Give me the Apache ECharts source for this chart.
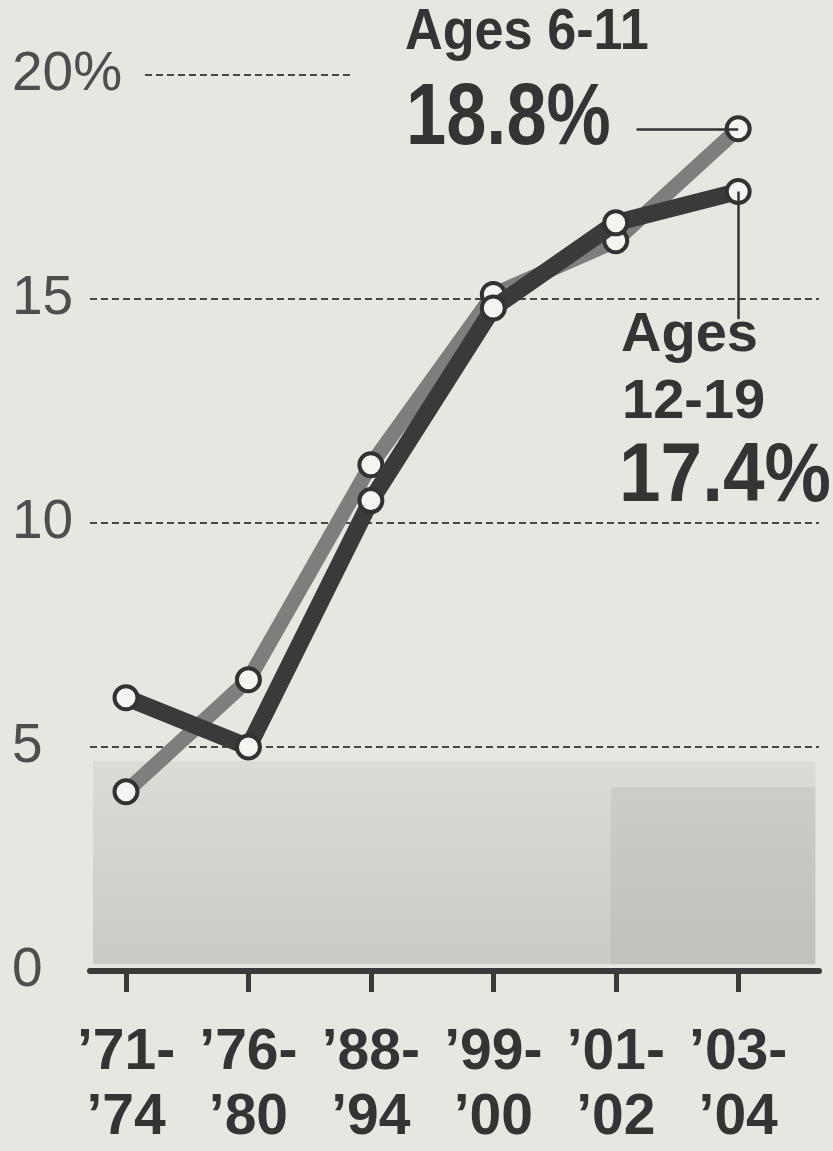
<!DOCTYPE html>
<html>
<head>
<meta charset="utf-8">
<script src="https://cdn.jsdelivr.net/npm/echarts@6/dist/echarts.min.js"></script>
<style>
html,body{margin:0;padding:0;background:#e7e7e2;}
#chart{width:833px;height:1151px;}
</style>
</head>
<body>
<div id="chart"></div>
<script>
const categories = ["’71-\n’74", "’76-\n’80", "’88-\n’94", "’99-\n’00", "’01-\n’02", "’03-\n’04"];
const ages6to11 = [4.0, 6.5, 11.3, 15.1, 16.3, 18.8];
const ages12to19 = [6.1, 5.0, 10.5, 14.8, 16.7, 17.4];
const yTicks = [0, 5, 10, 15, 20];

const idx = categories.map((c, i) => i);
const last = categories.length - 1;
const FONT = "'Liberation Sans', Arial, Helvetica, sans-serif";
const DARK = '#343434';
const GRID_STYLE = { color: '#474747', type: [7, 4], width: 2 };

const chart = echarts.init(document.getElementById('chart'));
const markerStyle = { color: '#f4f4f0', borderColor: '#323232', borderWidth: 4 };

chart.setOption({
  backgroundColor: '#e7e7e2',
  animation: false,
  grid: { left: 90, right: 14, top: 75, bottom: 176, containLabel: false },
  xAxis: {
    type: 'value',
    min: -0.294,
    max: 5.66,
    axisLine: { show: true, onZero: true, lineStyle: { color: '#3a3a3a', width: 6 } },
    axisTick: { show: true, customValues: idx, length: 21, lineStyle: { color: '#3a3a3a', width: 5 } },
    axisLabel: {
      customValues: idx,
      formatter: v => categories[Math.round(v)],
      margin: 50,
      color: DARK, fontFamily: FONT, fontWeight: 'bold', fontSize: 57, lineHeight: 65,
      verticalAlign: 'top', align: 'center'
    },
    splitLine: { show: false }
  },
  yAxis: {
    type: 'value',
    min: yTicks[0], max: yTicks[yTicks.length - 1], interval: 5,
    axisLine: { show: false }, axisTick: { show: false },
    axisLabel: {
      formatter: v => v === 20 ? v + '%' : String(v),
      align: 'left', margin: 78,
      color: '#4e4e4e', fontFamily: FONT, fontSize: 55
    },
    splitLine: { show: true, lineStyle: Object.assign({}, GRID_STYLE, { color: ['transparent', GRID_STYLE.color, GRID_STYLE.color, GRID_STYLE.color, 'transparent'] }) }
  },
  series: [
    {
      type: 'line', data: [], z: 1, silent: true,
      markArea: {
        silent: true,
        data: [
          [{ coord: [-0.27, 0.15], itemStyle: { color: { type: 'linear', x: 0, y: 0, x2: 0, y2: 1, colorStops: [{ offset: 0, color: '#dcdcd7' }, { offset: 1, color: '#cacbc6' }] } } }, { coord: [5.63, 4.68] }],
          [{ coord: [3.96, 0.15], itemStyle: { color: 'rgba(150,152,146,0.18)' } }, { coord: [5.63, 4.1] }]
        ]
      },
      markLine: {
        silent: true, symbol: 'none', label: { show: false },
        lineStyle: { color: '#333', width: 2.5, type: 'solid' },
        data: [
          [{ coord: [0.155, yTicks[4]], lineStyle: GRID_STYLE }, { coord: [1.83, yTicks[4]] }],
          [{ coord: [4.17, ages6to11[last]] }, { coord: [last, ages6to11[last]] }],
          [{ coord: [last, ages12to19[last]] }, { coord: [last, 14.55] }]
        ]
      }
    },
    {
      name: 'Ages 6-11', type: 'line', z: 2,
      data: idx.map(i => [i, ages6to11[i]]),
      lineStyle: { color: '#7e7e7c', width: 15 },
      symbol: 'circle', symbolSize: 23, itemStyle: markerStyle
    },
    {
      name: 'Ages 12-19', type: 'line', z: 3,
      data: idx.map(i => [i, ages12to19[i]]),
      lineStyle: { color: '#3a3a3a', width: 17 },
      symbol: 'circle', symbolSize: 23, itemStyle: markerStyle
    }
  ],
  graphic: [
    { type: 'text', x: 405, y: 33, scaleX: 0.9, style: { text: 'Ages 6-11', fill: DARK, font: "bold 58px " + FONT, align: 'left', verticalAlign: 'middle' } },
    { type: 'text', x: 406, y: 120, scaleX: 0.83, style: { text: ages6to11[last] + '%', fill: DARK, font: "bold 87px " + FONT, align: 'left', verticalAlign: 'middle' } },
    { type: 'text', x: 621, y: 336, style: { text: 'Ages', fill: DARK, font: "bold 56px " + FONT, align: 'left', verticalAlign: 'middle' } },
    { type: 'text', x: 622, y: 403, style: { text: '12-19', fill: DARK, font: "bold 56px " + FONT, align: 'left', verticalAlign: 'middle' } },
    { type: 'text', x: 619, y: 478, scaleX: 0.89, style: { text: ages12to19[last] + '%', fill: DARK, font: "bold 84px " + FONT, align: 'left', verticalAlign: 'middle' } }
  ]
});
</script>
</body>
</html>
